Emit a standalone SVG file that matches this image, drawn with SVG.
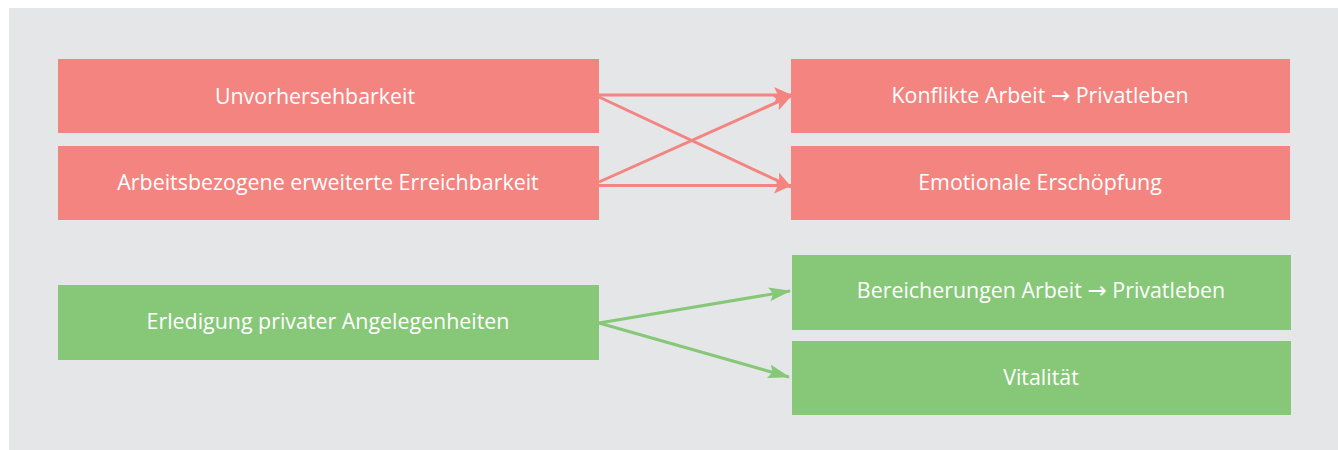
<svg xmlns="http://www.w3.org/2000/svg" width="1338" height="450" viewBox="0 0 1338 450">
<style>
.bg{fill:#e5e6e8}
.r{fill:#f4847f}
.g{fill:#86c878}
.t{fill:#ffffff;font-family:"Open Sans","Noto Sans",sans-serif;font-size:21.4px;text-anchor:middle}
.a{font-family:"DejaVu Sans",sans-serif;font-size:23px}
.cr{stroke:#f4847f;stroke-width:3;fill:none}
.cg{stroke:#86c878;stroke-width:3;fill:none}
</style>
<defs>
<marker id="ar" markerUnits="userSpaceOnUse" markerWidth="18" markerHeight="16" refX="17" refY="8" orient="auto"><path d="M0,0 L18,8 L0,16 L4,8 Z" fill="#f4847f"/></marker>
<marker id="ag" markerUnits="userSpaceOnUse" markerWidth="22" markerHeight="16" refX="21" refY="8" orient="auto"><path d="M0,1 L22,8 L0,15 L4,8 Z" fill="#86c878"/></marker>
</defs>
<rect class="bg" x="9" y="8" width="1329" height="442"/>
<g id="connectors">
<line class="cr" x1="599" y1="95" x2="791" y2="95" marker-end="url(#ar)"/>
<line class="cr" x1="599" y1="97" x2="791" y2="187" marker-end="url(#ar)"/>
<line class="cr" x1="599" y1="182" x2="791" y2="96" marker-end="url(#ar)"/>
<line class="cr" x1="599" y1="185.5" x2="791" y2="185.5" marker-end="url(#ar)"/>
<line class="cg" x1="599" y1="323" x2="790" y2="291" marker-end="url(#ag)"/>
<line class="cg" x1="599" y1="323" x2="789" y2="377" marker-end="url(#ag)"/>
</g>
<g id="n1"><rect class="r" x="58" y="59" width="541" height="74"/><text class="t" x="315" y="104">Unvorhersehbarkeit</text></g>
<g id="n2"><rect class="r" x="58" y="146" width="541" height="74"/><text class="t" x="328" y="190">Arbeitsbezogene erweiterte Erreichbarkeit</text></g>
<g id="n3"><rect class="g" x="58" y="285" width="541" height="75"/><text class="t" x="328" y="329">Erledigung privater Angelegenheiten</text></g>
<g id="n4"><rect class="r" x="791" y="59" width="499" height="74"/><text class="t" x="1040" y="103">Konflikte Arbeit <tspan class="a">→</tspan> Privatleben</text></g>
<g id="n5"><rect class="r" x="791" y="146" width="499" height="74"/><text class="t" x="1040" y="190">Emotionale Erschöpfung</text></g>
<g id="n6"><rect class="g" x="792" y="255" width="499" height="75"/><text class="t" x="1041" y="298">Bereicherungen Arbeit <tspan class="a">→</tspan> Privatleben</text></g>
<g id="n7"><rect class="g" x="792" y="341" width="499" height="74"/><text class="t" x="1041" y="385">Vitalität</text></g>
</svg>
